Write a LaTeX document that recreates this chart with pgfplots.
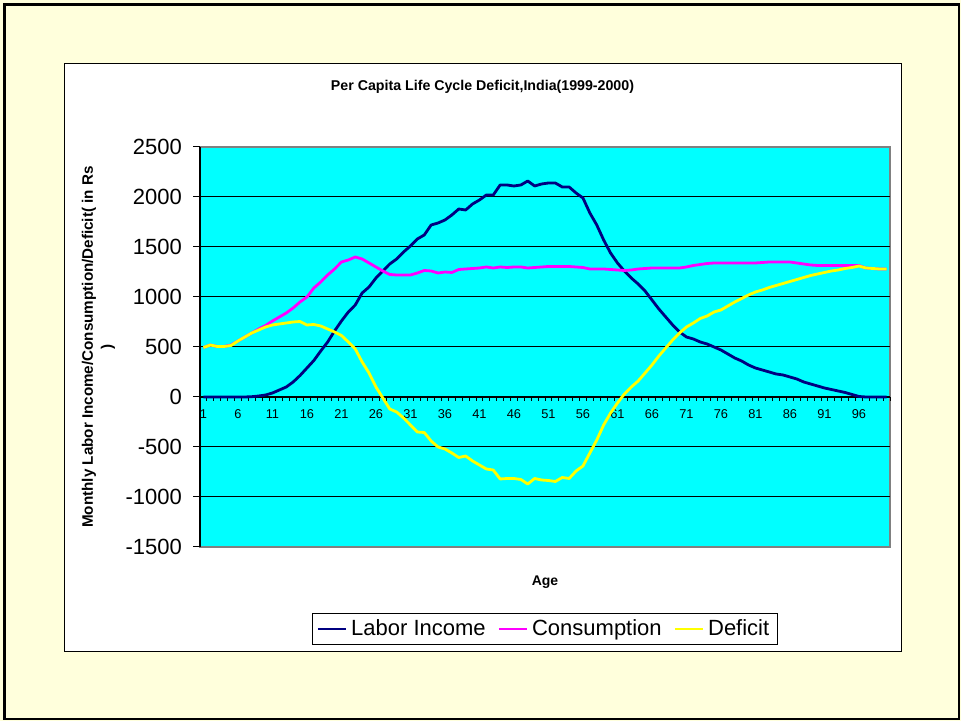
\documentclass[border=0pt]{standalone}
\usepackage{fontspec}
\setmainfont{Liberation Sans}
\usepackage{pgfplots}
\pgfplotsset{compat=1.18}
\usepackage{pgfplotstable}
\definecolor{bgyellow}{RGB}{255,255,220}
\definecolor{plotcyan}{RGB}{0,255,255}
\definecolor{navyline}{RGB}{0,0,128}
\definecolor{magline}{RGB}{255,0,255}
\definecolor{yelline}{RGB}{255,255,0}

\pgfplotstableread{
age v
1 0
2 0
3 0
4 0
5 0
6 0
7 0
8 3
9 10
10 20
11 40
12 70
13 100
14 150
15 215
16 290
17 365
18 460
19 550
20 660
21 760
22 850
23 920
24 1040
25 1100
26 1190
27 1260
28 1330
29 1380
30 1450
31 1510
32 1580
33 1620
34 1720
35 1740
36 1770
37 1820
38 1880
39 1870
40 1930
41 1970
42 2020
43 2020
44 2120
45 2120
46 2110
47 2120
48 2160
49 2110
50 2130
51 2140
52 2140
53 2100
54 2100
55 2040
56 1990
57 1840
58 1720
59 1570
60 1440
61 1340
62 1260
63 1190
64 1130
65 1060
66 970
67 880
68 800
69 720
70 650
71 600
72 580
73 550
74 530
75 500
76 470
77 430
78 390
79 360
80 320
81 290
82 270
83 250
84 230
85 220
86 200
87 180
88 150
89 130
90 110
91 90
92 75
93 60
94 45
95 25
96 5
97 0
98 0
99 0
100 0
}\labor

\pgfplotstableread{
age v
1 495
2 520
3 505
4 505
5 520
6 560
7 600
8 640
9 680
10 715
11 760
12 800
13 840
14 890
15 950
16 1000
17 1090
18 1150
19 1220
20 1280
21 1350
22 1370
23 1400
24 1380
25 1340
26 1300
27 1260
28 1225
29 1220
30 1220
31 1220
32 1240
33 1265
34 1260
35 1240
36 1250
37 1245
38 1275
39 1280
40 1285
41 1290
42 1300
43 1290
44 1300
45 1295
46 1300
47 1300
48 1290
49 1295
50 1300
51 1305
52 1305
53 1305
54 1305
55 1300
56 1295
57 1280
58 1280
59 1280
60 1275
61 1270
62 1265
63 1270
64 1280
65 1285
66 1290
67 1290
68 1290
69 1290
70 1290
71 1300
72 1315
73 1325
74 1335
75 1340
76 1340
77 1340
78 1340
79 1340
80 1340
81 1340
82 1345
83 1350
84 1350
85 1350
86 1350
87 1340
88 1330
89 1320
90 1315
91 1315
92 1315
93 1315
94 1315
95 1315
96 1315
97 1290
98 1285
99 1280
100 1280
}\consumption

\pgfplotstableread{
age v
1 495
2 520
3 505
4 505
5 515
6 560
7 600
8 640
9 670
10 700
11 720
12 730
13 740
14 750
15 755
16 720
17 725
18 710
19 680
20 650
21 615
22 550
23 480
24 350
25 240
26 100
27 -10
28 -120
29 -150
30 -210
31 -280
32 -350
33 -355
34 -440
35 -500
36 -520
37 -560
38 -605
39 -590
40 -640
41 -680
42 -720
43 -730
44 -820
45 -815
46 -815
47 -825
48 -870
49 -815
50 -830
51 -835
52 -845
53 -805
54 -815
55 -740
56 -690
57 -560
58 -430
59 -280
60 -160
61 -60
62 30
63 100
64 160
65 240
66 320
67 410
68 490
69 570
70 640
71 700
72 740
73 785
74 810
75 850
76 870
77 910
78 950
79 985
80 1020
81 1050
82 1070
83 1095
84 1115
85 1135
86 1155
87 1175
88 1195
89 1215
90 1230
91 1245
92 1260
93 1270
94 1285
95 1295
96 1310
97 1290
98 1285
99 1280
100 1280
}\deficit

\begin{document}
\begin{tikzpicture}
\fill[bgyellow] (0pt,0pt) rectangle (480.5pt,360.5pt);
\draw[black, line width=1.2pt] (2.25pt,1pt) rectangle (479.5pt,358.25pt);
\draw[black, line width=0.5pt, fill=white] (32pt,34.5pt) rectangle (450.5pt,328.5pt);
\node[font=\bfseries\fontsize{7.1}{8.5}\selectfont] at (241.25pt,317pt) {Per Capita Life Cycle Deficit,India(1999-2000)};
\begin{axis}[
  at={(100pt,87pt)}, anchor=south west,
  scale only axis, width=345pt, height=200pt,
  xmin=0.5, xmax=100.5, ymin=-1500, ymax=2500,
  axis background/.style={fill=plotcyan, draw=gray, line width=0.6pt},
  axis x line=middle, axis y line=left,
  axis line style={-, black, line width=0.6pt},
  hide obscured x ticks=false, hide obscured y ticks=false,
  tick align=outside,
  tick style={black, line width=0.5pt},
  ytick={-1500,-1000,-500,0,500,1000,1500,2000,2500},
  yticklabels={-1500,-1000,-500,0,500,1000,1500,2000,2500},
  yticklabel style={font=\fontsize{11}{13}\selectfont, xshift=-2pt},
  major tick length=3.5pt,
  extra y ticks={-1000,-500,500,1000,1500,2000},
  extra y tick labels={},
  extra y tick style={grid=major},
  grid style={black, line width=0.5pt},
  xtick={1,6,11,16,21,26,31,36,41,46,51,56,61,66,71,76,81,86,91,96},
  xticklabels={1,6,11,16,21,26,31,36,41,46,51,56,61,66,71,76,81,86,91,96},
  major x tick style={draw=none},
  minor xtick={0.5,1.5,...,100.5},
  minor tick length=2pt,
  xticklabel style={font=\fontsize{6.4}{7}\selectfont, yshift=0.8pt},
  xlabel={Age},
  xlabel style={font=\bfseries\fontsize{7}{8}\selectfont, at={(axis description cs:0.5,-0.0875)}, anchor=center},
  ylabel={Monthly Labor Income/Consumption/Deficit( in Rs\\)},
  ylabel style={font=\bfseries\fontsize{7.6}{9.5}\selectfont, align=center, at={(axis description cs:-0.147,0.5)}, anchor=center},
  legend columns=3,
  legend cell align=left,
  legend style={at={(0.5,-0.205)}, anchor=center, draw=black, fill=white, line width=0.5pt,
    font=\fontsize{11}{13}\selectfont, inner xsep=2pt, inner ysep=1pt,
    /tikz/every even column/.append style={column sep=4pt}},
  legend image code/.code={\draw[#1, line width=1.2pt] (0pt,0pt) -- (14pt,0pt);},
  every axis plot/.append style={line join=round},
]
\addplot[navyline, line width=1.4pt] table[x=age, y=v] {\labor};
\addlegendentry{Labor Income}
\addplot[magline, line width=1.4pt] table[x=age, y=v] {\consumption};
\addlegendentry{Consumption}
\addplot[yelline, line width=1.4pt] table[x=age, y=v] {\deficit};
\addlegendentry{Deficit}
\end{axis}
\end{tikzpicture}
\end{document}
